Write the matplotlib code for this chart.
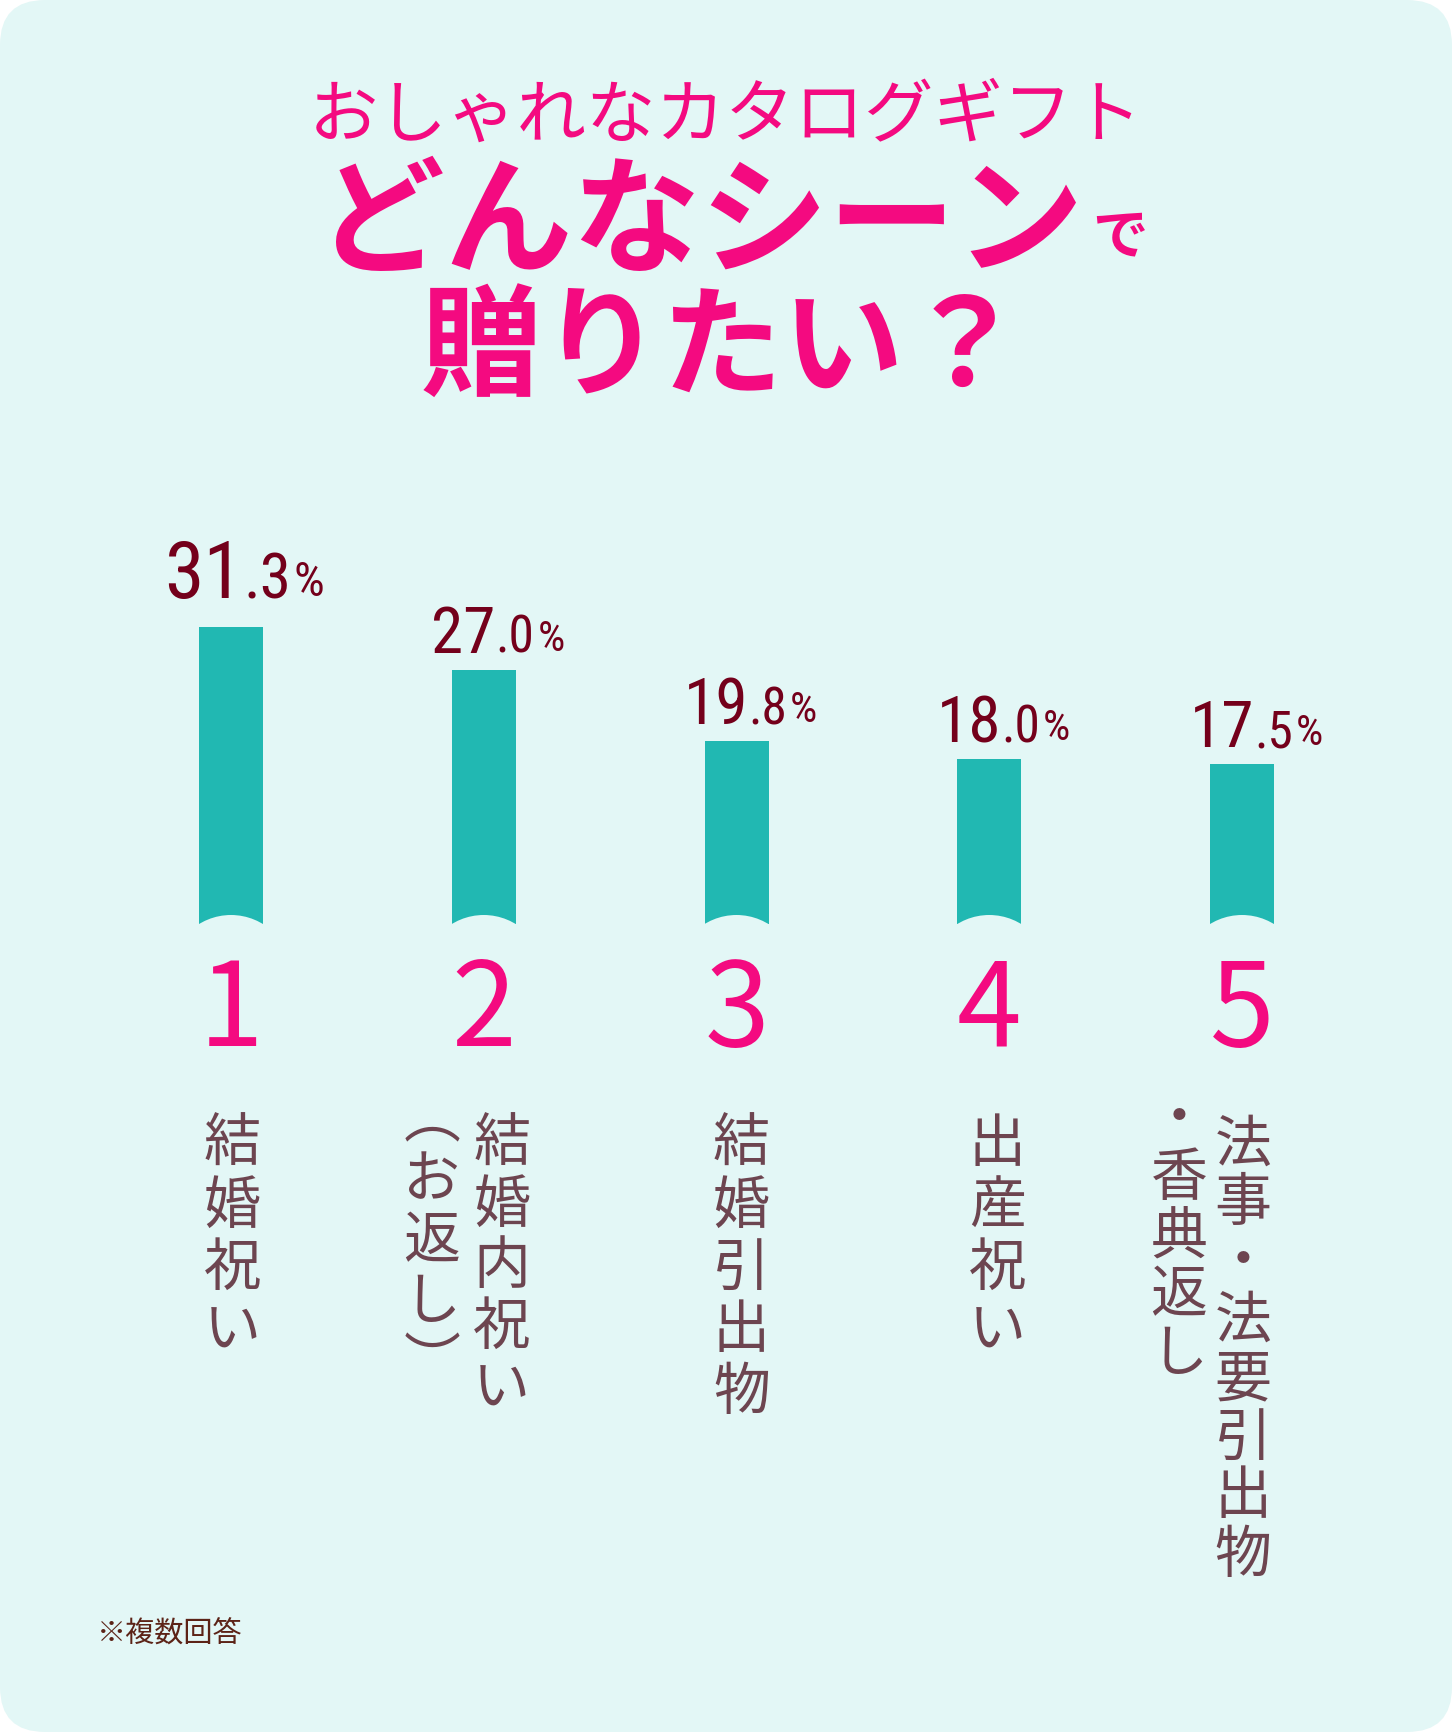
import numpy as np
import matplotlib
matplotlib.use('Agg')
import matplotlib.pyplot as plt
from matplotlib import font_manager
from matplotlib.patches import FancyBboxPatch, Circle
from matplotlib.transforms import ScaledTranslation

# Data.
ranks = ['1', '2', '3', '4', '5']
values = [31.3, 27.0, 19.8, 18.0, 17.5]
# Scene labels, one list of vertical columns per bar (right column first).
scenes = [
    ['結婚祝い'],
    ['結婚内祝い', '︵お返し︶'],
    ['結婚引出物'],
    ['出産祝い'],
    ['法事・法要引出物', '・香典返し'],
]
title1 = 'おしゃれなカタログギフト'
title2 = 'どんなシーン'
title2b = 'で'
title3 = '贈りたい？'
note = '※複数回答'

# Style.
W, H, DPI = 1452, 1732, 100
bgColor = '#E3F7F6'
barColor = '#21B8B2'
pink = '#F40A80'
wine = '#74001B'
mauve = '#6D4550'
jp = 'Noto Sans CJK JP'

# Pick a condensed face for the numbers if one is installed.
numFont = {'family': 'Roboto'}
fonts = font_manager.fontManager.ttflist
for want in ['Roboto Condensed', 'Liberation Sans Narrow', 'Open Sans Condensed', 'Noto Sans Condensed']:
    if any(f.name == want for f in fonts):
        numFont = {'family': want}
        break
else:
    for fam in ['Roboto', 'Noto Sans', 'Open Sans', 'DejaVu Sans', 'Liberation Sans']:
        cands = [f for f in fonts if f.name == fam and f.stretch in ('condensed', 'semi-condensed', 'extra-condensed')]
        if cands:
            numFont = {'fname': cands[0].fname}
            break

def numProps(size):
    if 'fname' in numFont:
        return {'fontproperties': font_manager.FontProperties(fname=numFont['fname'], size=size)}
    return {'family': numFont['family'], 'fontsize': size}

def pt(p):  # pixels -> points
    return p*72/DPI

fig = plt.figure(figsize=(W/DPI, H/DPI), dpi=DPI, facecolor='white')
bg = FancyBboxPatch((0, 0), W/DPI, H/DPI, boxstyle='round,pad=0,rounding_size=0.45',
                    transform=fig.dpi_scale_trans, facecolor=bgColor, edgecolor='none', zorder=-10)
fig.add_artist(bg)

# Titles.
fig.text(726/W, 1-137/H, title1, ha='center', va='baseline', fontsize=50, family=jp, color=pink)
fig.text(700/W, 1-263/H, title2, ha='center', va='baseline', fontsize=92, family=jp, weight='bold', color=pink)
fig.text(1120/W, 1-253/H, title2b, ha='center', va='baseline', fontsize=40, family=jp, weight='bold', color=pink)
fig.text(723/W, 1-386/H, title3, ha='center', va='baseline', fontsize=87, family=jp, weight='bold', color=pink)

# Bars.
cx0, step = 231, 252.75
basePx, topPx = 924, 424
ymin, scale = 1.41, 9.93
ax = fig.add_axes([(cx0-step/2)/W, (H-basePx)/H, step*5/W, (basePx-topPx)/H])
ax.axis('off')
x = np.arange(len(values))
bars = ax.bar(x, values, width=64/step, color=barColor, zorder=2)
for b, xi in zip(bars, x):
    off = ScaledTranslation(xi, ymin, ax.transData)
    c = Circle((0, -0.52), 0.61, transform=fig.dpi_scale_trans+off, facecolor=bgColor, edgecolor='none', zorder=3)
    ax.add_artist(c)
    c.set_clip_path(b)
ax.set_xlim(-0.5, 4.5)
ax.set_ylim(ymin, ymin+(basePx-topPx)/scale)

# Value labels.
decTexts = []
for i, v in enumerate(values):
    sizes = (57.5, 45.5, 35) if i == 0 else (47, 37, 31)
    gap = 29 if i == 0 else 17
    ip, dp = f'{v:.1f}'.split('.')
    ax.annotate(ip, (i, v), xytext=(pt(12), pt(gap)), textcoords='offset points', ha='right', va='baseline',
                color=wine, annotation_clip=False, **numProps(sizes[0]))
    t = ax.annotate('.'+dp, (i, v), xytext=(pt(12), pt(gap)), textcoords='offset points', ha='left', va='baseline',
                    color=wine, annotation_clip=False, **numProps(sizes[1]))
    decTexts.append((t, sizes, gap))
fig.canvas.draw()
rend = fig.canvas.get_renderer()
for i, (t, sizes, gap) in enumerate(decTexts):
    w = t.get_window_extent(rend).width
    ax.annotate('%', (i, values[i]), xytext=(pt(12+w+3), pt(gap+2)), textcoords='offset points', ha='left', va='baseline',
                color=wine, annotation_clip=False, **numProps(sizes[2]))

# Rank numbers.
for i, r in enumerate(ranks):
    ax.annotate(r, (i, ymin), xytext=(0, -pt(1046-basePx)), textcoords='offset points', ha='center', va='baseline',
                fontsize=84, family=jp, color=pink, annotation_clip=False)

# Vertical scene labels.
colDx = [[1], [18, -52], [5], [8], [1, -63]]
colStart = [1145, 1120]
colStep = [62, 61, 62, 62, 58.7]
for i, cols in enumerate(scenes):
    for j, col in enumerate(cols):
        for k, ch in enumerate(col):
            y = colStart[j] + k*colStep[i]
            ax.annotate(ch, (i, ymin), xytext=(pt(colDx[i][j]), -pt(y-basePx)), textcoords='offset points',
                        ha='center', va='center', fontsize=41, family=jp, color=mauve, annotation_clip=False)

# Footnote.
fig.text(97/W, 1-1635/H, note, ha='left', va='center', fontsize=21, family=jp, color='#5C2317')

fig.savefig('out.png', dpi=DPI, facecolor='white')
